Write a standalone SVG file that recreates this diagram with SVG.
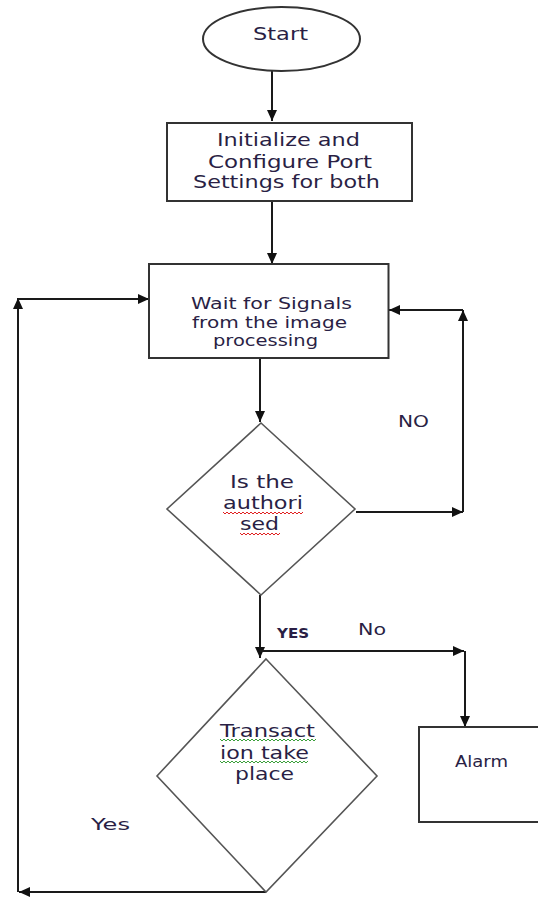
<svg xmlns="http://www.w3.org/2000/svg" width="538" height="897" viewBox="0 0 538 897">
  <style>
    .shape { fill: #ffffff; stroke: #333333; stroke-width: 2; }
    .dia { fill: #ffffff; stroke: #555555; stroke-width: 1.6; }
    .conn { fill: none; stroke: #1a1a1a; stroke-width: 2; marker-end: url(#arrow); }
    .t { font-family: "DejaVu Sans", Verdana, sans-serif; fill: #2a1f45; }
    .sq-red { fill: none; stroke: #e02020; stroke-width: 1; }
    .sq-green { fill: none; stroke: #3aa03a; stroke-width: 1; }
  </style>
  <defs>
    <marker id="arrow" markerUnits="userSpaceOnUse" markerWidth="11" markerHeight="10" refX="11" refY="5" orient="auto">
      <path d="M0,0 L11,5 L0,10 z" fill="#111111"/>
    </marker>
  </defs>
  <rect width="538" height="897" fill="#ffffff"/>

  <g id="connectors">
    <line class="conn" x1="272" y1="71" x2="272" y2="121"/>
    <line class="conn" x1="272" y1="201" x2="272" y2="264"/>
    <line class="conn" x1="260" y1="358" x2="260" y2="422"/>
    <!-- NO loop -->
    <line class="conn" x1="356" y1="512" x2="463" y2="512"/>
    <line class="conn" x1="463" y1="512" x2="463" y2="310"/>
    <line class="conn" x1="463" y1="310" x2="389" y2="310"/>
    <!-- YES branch -->
    <line class="conn" x1="260" y1="595" x2="260" y2="658"/>
    <line class="conn" x1="260" y1="651" x2="464" y2="651"/>
    <line class="conn" x1="465" y1="651" x2="465" y2="727"/>
    <!-- Yes loop back -->
    <line class="conn" x1="266" y1="892" x2="19" y2="892"/>
    <line class="conn" x1="18" y1="892" x2="18" y2="298"/>
    <line class="conn" x1="18" y1="299" x2="149" y2="299"/>
  </g>

  <g id="start">
    <ellipse class="shape" cx="281.5" cy="39" rx="78.5" ry="32"/>
    <text class="t" x="253" y="40" font-size="18" textLength="55" lengthAdjust="spacingAndGlyphs">Start</text>
  </g>

  <g id="init">
    <rect class="shape" x="167" y="123" width="245" height="78"/>
    <text class="t" x="217" y="146" font-size="17" textLength="143" lengthAdjust="spacingAndGlyphs">Initialize and</text>
    <text class="t" x="208" y="167.5" font-size="17" textLength="164" lengthAdjust="spacingAndGlyphs">Configure Port</text>
    <text class="t" x="193" y="188" font-size="17" textLength="187" lengthAdjust="spacingAndGlyphs">Settings for both</text>
  </g>

  <g id="wait">
    <rect class="shape" x="149" y="264" width="239.5" height="94"/>
    <text class="t" x="191" y="309" font-size="15" textLength="161" lengthAdjust="spacingAndGlyphs">Wait for Signals</text>
    <text class="t" x="192" y="327.5" font-size="15" textLength="155" lengthAdjust="spacingAndGlyphs">from the image</text>
    <text class="t" x="213" y="346" font-size="15" textLength="105" lengthAdjust="spacingAndGlyphs">processing</text>
  </g>

  <g id="authorised">
    <polygon class="dia" points="261,423 355,509 261,595 167,509"/>
    <text class="t" x="230" y="487.5" font-size="17.5" textLength="64" lengthAdjust="spacingAndGlyphs">Is the</text>
    <text class="t" x="223" y="509" font-size="17.5" textLength="80" lengthAdjust="spacingAndGlyphs">authori</text>
    <text class="t" x="240" y="530" font-size="17.5" textLength="39" lengthAdjust="spacingAndGlyphs">sed</text>
    <polyline class="sq-red" points="223,512 225,514 227,512 229,514 231,512 233,514 235,512 237,514 239,512 241,514 243,512 245,514 247,512 249,514 251,512 253,514 255,512 257,514 259,512 261,514 263,512 265,514 267,512 269,514 271,512 273,514 275,512 277,514 279,512 281,514 283,512 285,514 287,512 289,514 291,512 293,514 295,512 297,514 299,512 301,514 303,512"/>
    <polyline class="sq-red" points="240,533 242,535 244,533 246,535 248,533 250,535 252,533 254,535 256,533 258,535 260,533 262,535 264,533 266,535 268,533 270,535 272,533 274,535 276,533 278,535 280,533"/>
  </g>

  <g id="transaction">
    <polygon class="dia" points="266,659 377,776 266,892 157,776"/>
    <text class="t" x="220" y="737" font-size="17" textLength="95" lengthAdjust="spacingAndGlyphs">Transact</text>
    <text class="t" x="220" y="759" font-size="17" textLength="89" lengthAdjust="spacingAndGlyphs">ion take</text>
    <text class="t" x="235" y="780" font-size="17" textLength="59" lengthAdjust="spacingAndGlyphs">place</text>
    <polyline class="sq-green" points="220,739 222,741 224,739 226,741 228,739 230,741 232,739 234,741 236,739 238,741 240,739 242,741 244,739 246,741 248,739 250,741 252,739 254,741 256,739 258,741 260,739 262,741 264,739 266,741 268,739 270,741 272,739 274,741 276,739 278,741 280,739 282,741 284,739 286,741 288,739 290,741 292,739 294,741 296,739 298,741 300,739 302,741 304,739 306,741 308,739 310,741 312,739 314,741 316,739"/>
    <polyline class="sq-green" points="220,761 222,763 224,761 226,763 228,761 230,763 232,761 234,763 236,761 238,763 240,761 242,763 244,761 246,763 248,761 250,763 252,761 254,763 256,761 258,763 260,761 262,763 264,761 266,763 268,761 270,763 272,761 274,763 276,761 278,763 280,761 282,763 284,761 286,763 288,761 290,763 292,761 294,763 296,761 298,763 300,761 302,763 304,761 306,763 308,761"/>
  </g>

  <g id="alarm">
    <rect class="shape" x="419" y="727" width="130" height="95"/>
    <text class="t" x="455" y="766.5" font-size="15" textLength="53" lengthAdjust="spacingAndGlyphs">Alarm</text>
  </g>

  <g id="labels">
    <text class="t" x="398" y="426.5" font-size="16.5" textLength="31" lengthAdjust="spacingAndGlyphs">NO</text>
    <text class="t" x="277" y="638" font-size="14" font-weight="bold" textLength="32" lengthAdjust="spacingAndGlyphs">YES</text>
    <text class="t" x="358" y="635" font-size="16" textLength="28" lengthAdjust="spacingAndGlyphs">No</text>
    <text class="t" x="91" y="830" font-size="16.5" textLength="39" lengthAdjust="spacingAndGlyphs">Yes</text>
  </g>
</svg>
